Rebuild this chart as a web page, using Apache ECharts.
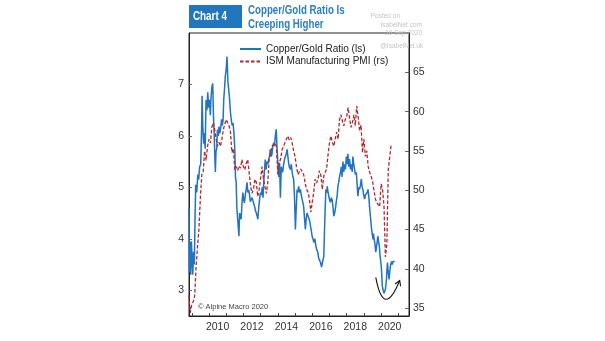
<!DOCTYPE html>
<html><head><meta charset="utf-8">
<script src="https://cdn.jsdelivr.net/npm/echarts@6/dist/echarts.min.js"></script>
<style>html,body{margin:0;padding:0;background:#fff}#c{width:605px;height:341px}</style>
</head><body><div id="c"></div>
<script>
// Copper/Gold ratio (left scale): observation dates (fractional years) and values
const cgDates = [2008.84,2008.86,2008.90,2008.94,2008.98,2009.02,2009.06,2009.10,2009.15,2009.19,2009.23,2009.29,2009.35,2009.40,2009.46,2009.52,2009.57,2009.60,2009.64,2009.69,2009.73,2009.78,2009.83,2009.88,2009.93,2009.98,
2010.03,2010.08,2010.12,2010.17,2010.22,2010.26,2010.30,2010.34,2010.37,2010.41,2010.45,2010.49,2010.54,2010.58,2010.63,2010.68,2010.73,2010.77,2010.82,2010.86,2010.90,2010.95,
2011.00,2011.05,2011.10,2011.15,2011.20,2011.25,2011.30,2011.35,2011.40,2011.45,2011.50,2011.54,2011.58,2011.62,2011.68,2011.74,2011.78,2011.81,2011.87,2011.92,2011.97,
2012.02,2012.06,2012.11,2012.16,2012.21,2012.26,2012.31,2012.36,2012.40,2012.45,2012.50,2012.55,2012.60,2012.65,2012.70,2012.75,2012.80,2012.84,2012.89,2012.94,2012.99,
2013.04,2013.09,2013.14,2013.19,2013.24,2013.27,2013.32,2013.37,2013.42,2013.47,2013.52,2013.56,2013.62,2013.66,2013.71,2013.76,2013.81,2013.85,2013.91,2013.95,2013.99,
2014.05,2014.10,2014.15,2014.20,2014.28,2014.34,2014.39,2014.44,2014.49,2014.54,2014.60,2014.66,2014.73,2014.78,2014.83,2014.88,2014.92,2014.97,
2015.02,2015.07,2015.12,2015.17,2015.21,2015.26,2015.31,2015.36,2015.41,2015.46,2015.50,2015.55,2015.60,2015.65,2015.70,2015.75,2015.80,2015.85,2015.90,2015.95,2015.99,
2016.04,2016.09,2016.15,2016.20,2016.25,2016.32,2016.36,2016.40,2016.44,2016.48,2016.54,2016.58,2016.61,2016.67,2016.73,2016.79,2016.84,2016.87,2016.92,2016.96,
2017.01,2017.06,2017.11,2017.16,2017.21,2017.25,2017.30,2017.35,2017.39,2017.45,2017.49,2017.54,2017.59,2017.64,2017.69,2017.73,2017.78,2017.83,2017.88,2017.93,2017.98,
2018.02,2018.07,2018.12,2018.17,2018.22,2018.27,2018.32,2018.36,2018.41,2018.46,2018.50,2018.56,2018.60,2018.65,2018.70,2018.75,2018.80,2018.85,2018.90,2018.94,2018.99,
2019.04,2019.09,2019.14,2019.19,2019.24,2019.29,2019.34,2019.39,2019.43,2019.48,2019.53,2019.56,2019.59,2019.63,2019.69,2019.73,2019.76,2019.79,2019.82,2019.85,2019.88,2019.91,2019.94,2019.98,
2020.02,2020.07,2020.12,2020.17,2020.21,2020.25,2020.31,2020.34,2020.37,2020.40,2020.46,2020.50,2020.54,2020.60,2020.65,2020.69,2020.74,2020.79];
const cgValues = [4.60,3.35,3.95,3.30,3.95,3.60,3.30,3.75,3.50,4.40,5.05,4.90,5.25,5.15,5.40,5.45,6.10,6.78,6.20,5.85,6.05,5.75,6.70,6.50,6.85,6.55,
6.70,6.40,6.75,6.95,7.02,6.40,6.05,5.60,5.30,5.70,5.75,6.12,6.00,6.18,6.05,6.15,6.32,6.20,6.30,6.72,6.90,7.16,
7.30,7.54,7.05,6.90,6.70,6.45,6.30,6.20,6.25,6.05,5.75,5.20,5.10,4.60,4.57,4.05,4.50,4.45,4.38,4.70,4.90,
4.75,4.70,4.85,4.96,5.10,4.90,4.95,4.85,4.72,4.71,4.80,4.75,4.68,4.63,4.55,4.50,4.44,4.38,4.60,4.77,4.90,
4.85,5.00,4.80,5.15,5.40,5.54,5.35,5.50,5.45,5.55,5.60,5.74,5.60,5.65,5.80,5.87,5.80,5.99,6.13,5.80,5.54,
5.20,5.48,4.80,5.40,5.29,5.45,5.55,5.60,5.65,5.74,5.55,5.40,5.35,5.45,5.30,5.20,5.16,4.80,
4.18,4.60,4.96,4.90,5.02,4.90,4.96,4.85,4.77,4.70,4.63,4.40,4.18,4.40,4.50,4.45,4.48,4.35,4.24,4.15,4.05,
4.00,3.93,4.00,3.88,3.80,3.74,3.65,3.60,3.58,3.54,3.45,3.52,3.55,3.66,4.38,4.96,4.90,5.02,4.90,4.83,
4.75,4.71,4.80,4.75,4.60,4.44,4.50,4.60,4.71,4.85,5.02,5.10,5.22,5.30,5.40,5.20,5.50,5.30,5.45,5.35,5.60,
5.45,5.65,5.40,5.55,5.35,5.45,5.30,5.60,5.45,5.35,5.25,5.29,5.10,4.83,5.00,4.96,5.05,5.16,5.00,4.96,4.85,
4.77,4.85,4.83,4.90,4.96,4.80,4.57,4.40,4.24,4.10,3.99,4.10,4.00,3.93,3.74,3.85,3.90,4.00,4.05,3.95,3.90,3.80,3.66,3.55,
3.41,3.08,3.00,2.94,2.98,3.02,3.21,3.40,3.54,3.41,3.21,3.35,3.47,3.56,3.50,3.56,3.55,3.56];

// ISM Manufacturing PMI (right scale): monthly values, first month Nov 2008
const ismStartYear = 2008, ismStartMonth = 11;
const ismValues = [36.6,34.4,
35.5,35.8,36.5,40.1,42.8,45.0,49.0,52.0,52.4,55.0,53.8,55.6,
56.5,56.0,58.0,58.6,57.7,56.5,55.6,56.1,55.6,56.5,57.7,58.4,
59.0,58.8,58.2,57.4,54.8,55.3,52.6,53.0,52.5,53.1,52.8,53.9,
53.0,52.6,53.4,53.9,52.3,50.5,49.6,50.1,51.4,51.0,49.2,50.1,
51.5,53.0,51.4,50.5,49.6,51.0,54.0,54.8,55.6,55.6,56.0,55.6,
52.0,53.5,54.0,55.2,55.6,55.5,56.5,56.9,56.4,56.7,56.0,55.0,
54.3,53.0,52.0,51.8,52.7,52.5,52.0,51.0,50.1,49.8,48.9,47.2,
48.5,49.7,51.4,50.9,51.4,52.5,51.9,50.1,51.8,52.0,52.7,54.5,
56.0,56.9,56.1,55.6,55.5,57.4,56.5,59.0,59.6,58.8,58.2,59.0,
59.4,60.5,59.2,58.0,58.6,59.6,58.2,60.7,59.4,57.6,58.3,54.8,
56.5,54.3,55.0,53.0,52.3,51.8,51.2,50.0,48.9,48.4,48.2,47.9,
50.8,50.1,48.0,41.5,43.1,52.6,54.2,55.8];

const leftTicks = [3,4,5,6,7];
const rightTicks = [35,40,45,50,55,60,65];
const yearTicks = [2009,2010,2011,2012,2013,2014,2015,2016,2017,2018,2019,2020,2021];
const yearLabels = [2010,2012,2014,2016,2018,2020];
const seriesNames = ['Copper/Gold Ratio (ls)','ISM Manufacturing PMI (rs)'];
// annotation arrow (data coords on left scale)
const arrowStart = [2019.69,3.25], arrowCtrl = [2020.15,2.43], arrowEnd = [2021.08,3.19];

const cgData = cgDates.map((t,i)=>[t,cgValues[i]]);
const ismData = ismValues.map((v,i)=>{
  const m = ismStartMonth - 1 + i;
  return [ismStartYear + Math.floor(m/12) + (m%12)/12, v];
});

const FONT = 'Liberation Sans, Arial, sans-serif';
const chart = echarts.init(document.getElementById('c'), null, {renderer:'canvas'});
chart.setOption({
  animation:false,
  backgroundColor:'#fff',
  grid:{left:189,right:196,top:33,bottom:25,show:true,borderColor:'#222',borderWidth:1,backgroundColor:'transparent'},
  legend:{
    data:seriesNames, orient:'vertical', left:239, top:44, itemWidth:21, itemHeight:10, itemGap:2.5,
    itemStyle:{opacity:0},
    textStyle:{fontSize:10,color:'#222',fontFamily:FONT}, padding:0
  },
  xAxis:{
    type:'value', min:2008.84, max:2021.62,
    axisLine:{show:true,lineStyle:{color:'#222',width:1}},
    axisTick:{show:true,inside:true,length:3,customValues:yearTicks,lineStyle:{color:'#444'}},
    axisLabel:{customValues:yearLabels.map(y=>y+0.5),formatter:v=>String(Math.floor(v)),fontSize:10.5,color:'#333',margin:6,fontFamily:FONT},
    splitLine:{show:false}
  },
  yAxis:[{
    type:'value', position:'left', min:2.5, max:8,
    axisLine:{show:true,lineStyle:{color:'#222'}},
    axisTick:{show:true,inside:true,length:3,customValues:leftTicks,lineStyle:{color:'#666'}},
    axisLabel:{customValues:leftTicks,fontSize:10.5,color:'#333',margin:5,fontFamily:FONT},
    splitLine:{show:false}
  },{
    type:'value', position:'right', min:34, max:70,
    axisLine:{show:true,lineStyle:{color:'#222'}},
    axisTick:{show:true,inside:true,length:4,customValues:rightTicks,lineStyle:{color:'#666'}},
    axisLabel:{customValues:rightTicks,fontSize:10.5,color:'#333',margin:4,fontFamily:FONT},
    splitLine:{show:false}
  }],
  series:[{
    name:seriesNames[0], type:'line', yAxisIndex:0, data:cgData, symbol:'none',
    lineStyle:{color:'#2273c2',width:1.5}, itemStyle:{color:'#2273c2'}
  },{
    name:seriesNames[1], type:'line', yAxisIndex:1, data:ismData, symbol:'none',
    lineStyle:{color:'#b3282d',width:1.3,type:[3.5,2]}, itemStyle:{color:'#b3282d'}
  }],
  graphic:[
    {id:'tbox',type:'rect',shape:{x:189,y:5,width:53,height:23},style:{fill:'#2176bd'}},
    {id:'tchart',type:'text',x:193,y:16.5,scaleX:0.82,style:{text:'Chart 4',fill:'#fff',font:'bold 12px '+FONT,verticalAlign:'middle'}},
    {id:'t1',type:'text',x:248,y:11,scaleX:0.81,style:{text:'Copper/Gold Ratio Is',fill:'#2b7fc4',font:'bold 12px '+FONT,verticalAlign:'middle'}},
    {id:'t2',type:'text',x:248,y:25,scaleX:0.81,style:{text:'Creeping Higher',fill:'#2b7fc4',font:'bold 12px '+FONT,verticalAlign:'middle'}},
    {id:'w1',type:'text',x:400,y:16,style:{text:'Posted on',fill:'#c4c4c4',font:'6.5px '+FONT,align:'right',verticalAlign:'middle'}},
    {id:'w2',type:'text',x:422,y:25,style:{text:'IsabelNet.com',fill:'#c4c4c4',font:'6.5px '+FONT,align:'right',verticalAlign:'middle'}},
    {id:'w3',type:'text',x:422,y:33.5,style:{text:'10 Sep 2020',fill:'#c4c4c4',font:'6.5px '+FONT,align:'right',verticalAlign:'middle'}},
    {id:'w4',type:'text',x:423,y:46.5,style:{text:'@IsabelNet.uk',fill:'#c4c4c4',font:'6.5px '+FONT,align:'right',verticalAlign:'middle'}},
    {id:'copy',type:'text',x:198,y:307,style:{text:'© Alpine Macro 2020',fill:'#444',font:'7.5px '+FONT,verticalAlign:'middle'}}
  ]
});

// arrow annotation placed through the chart scales
const c = {xAxisIndex:0,yAxisIndex:0};
const p0 = chart.convertToPixel(c, arrowStart);
const p1 = chart.convertToPixel(c, arrowCtrl);
const p2 = chart.convertToPixel(c, arrowEnd);
let dx = p2[0]-p1[0], dy = p2[1]-p1[1];
const L = Math.hypot(dx,dy); dx/=L; dy/=L;
const px = -dy, py = dx;
const ah = 5, aw = 3;
chart.setOption({graphic:[
  {id:'arc',type:'bezierCurve',shape:{x1:p0[0],y1:p0[1],x2:p2[0],y2:p2[1],cpx1:p1[0],cpy1:p1[1]},style:{stroke:'#111',lineWidth:1.1,fill:null}},
  {id:'head',type:'polyline',shape:{points:[[p2[0]-ah*dx+aw*px,p2[1]-ah*dy+aw*py],[p2[0],p2[1]],[p2[0]-ah*dx-aw*px,p2[1]-ah*dy-aw*py]]},style:{stroke:'#111',lineWidth:1.1,fill:null}}
]});
</script>
</body></html>
